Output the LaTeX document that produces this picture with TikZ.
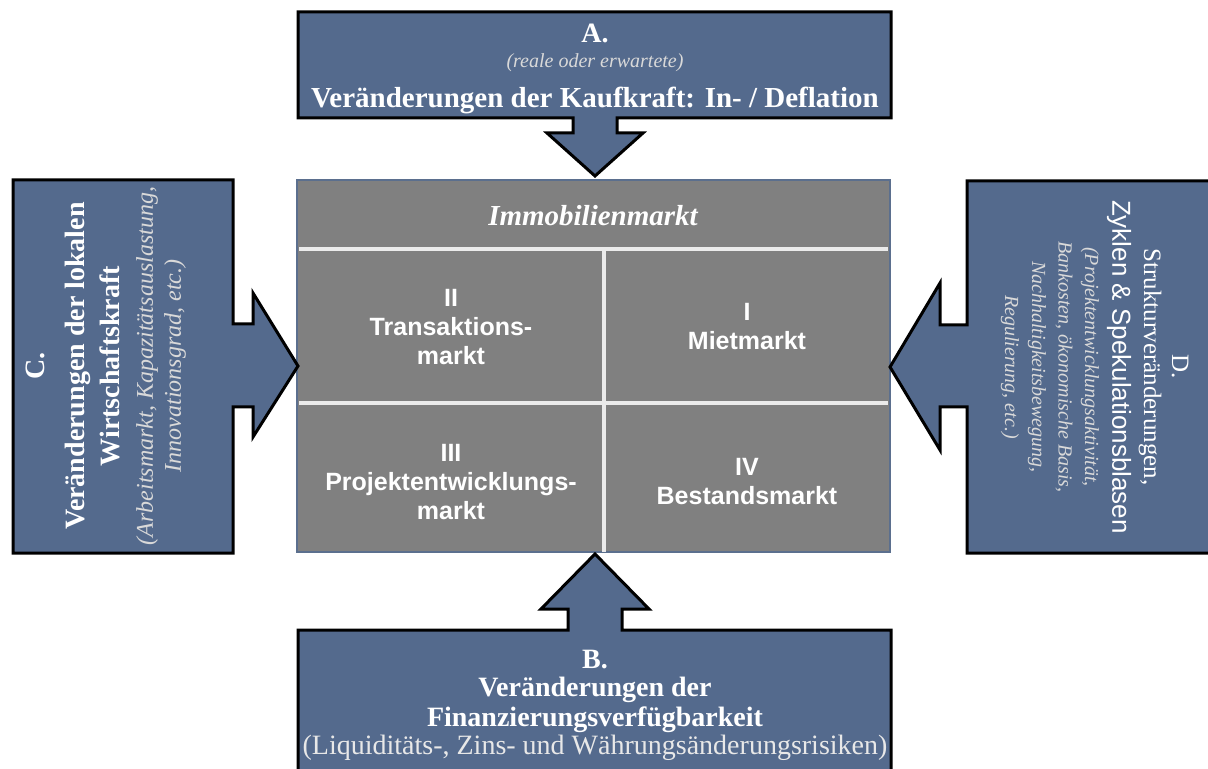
\documentclass[tikz,border=0pt]{standalone}
\usepackage{fontspec}
\setmainfont{Liberation Serif}
\setsansfont{Liberation Sans}
\usetikzlibrary{calc}
\definecolor{slate}{HTML}{546A8D}
\definecolor{cellgray}{HTML}{808080}
\definecolor{rulewhite}{HTML}{EBEBEB}
\definecolor{notegray}{HTML}{D9D9D9}
\definecolor{frameblue}{HTML}{5B6F8E}

\begin{document}
\begin{tikzpicture}[x=0.5pt,y=-0.5pt,
  callout/.style={fill=slate,draw=black,line width=1.5pt,line join=miter},
  divider/.style={draw=rulewhite,line width=2pt},
  headline/.style={text=white,inner sep=0pt,font=\fontsize{14}{16}\selectfont\bfseries},
  plainline/.style={text=white,inner sep=0pt,font=\fontsize{12.5}{15}\selectfont},
  noteline/.style={text=notegray,inner sep=0pt,font=\fontsize{#1}{#1}\selectfont\itshape},
  noteline/.default=12,
  celltext/.style={text=white,align=center,inner sep=0pt,font=\fontsize{12.5}{14.5}\selectfont\sffamily\bfseries}]
\useasboundingbox (0,0) rectangle (1208,769);
\clip (0,0) rectangle (1208,769);

% market block
\draw[fill=cellgray,draw=frameblue,line width=1pt] (297,180) rectangle (890,552);
\draw[divider] (299,249) -- (888,249);
\draw[divider] (299,403) -- (888,403);
\draw[divider] (604,249) -- (604,552);
\node[text=white,inner sep=0pt,font=\fontsize{14.5}{16}\selectfont\bfseries\itshape] (market) at (593,216) {Immobilienmarkt};
\node[celltext] (transaction) at (451,327) {II\\Transaktions-\\markt};
\node[celltext] (rent) at (747,327) {I\\Mietmarkt};
\node[celltext] (project) at (451,482) {III\\Projektentwicklungs-\\markt};
\node[celltext] (stock) at (747,482) {IV\\Bestandsmarkt};

% A: top
\draw[callout] (298,12) -- (891,12) -- (891,118) -- (617,118) -- (617,133) -- (643,133)
  -- (595,176) -- (547,133) -- (573,133) -- (573,118) -- (298,118) -- cycle;
\node[headline] (aHead) at (595,33) {A.};
\node[noteline=10] (aNote) at (595,63) {(reale oder erwartete)};
\node[headline,font=\fontsize{14.5}{16}\selectfont\bfseries] (aTitle) at (595,100) {Veränderungen der Kaufkraft: In- / Deflation};

% B: bottom
\draw[callout] (298,800) -- (298,630) -- (568,630) -- (568,609) -- (541,609) -- (595,554)
  -- (649,609) -- (622,609) -- (622,630) -- (891,630) -- (891,800) -- cycle;
\node[headline] (bHead) at (595,660) {B.};
\node[headline] (bTitle) at (595,690) {Veränderungen der};
\node[headline] (bTitleTwo) at (595,720) {Finanzierungsverfügbarkeit};
\node[text=notegray!60!white,inner sep=0pt,font=\fontsize{14}{16}\selectfont] (bNote) at (595,748) {(Liquiditäts-, Zins- und Währungsänderungsrisiken)};

% C: left
\draw[callout] (13,180) -- (233,180) -- (233,324) -- (253,324) -- (253,293) -- (298,366)
  -- (253,437) -- (253,407) -- (233,407) -- (233,553) -- (13,553) -- cycle;
\node[headline,rotate=90] (cHead) at (35,366) {C.};
\node[headline,rotate=90] (cTitle) at (78,366) {Veränderungen der lokalen};
\node[headline,rotate=90] (cTitleTwo) at (110,366) {Wirtschaftskraft};
\node[noteline,rotate=90] (cNote) at (147,366) {(Arbeitsmarkt, Kapazitätsauslastung,};
\node[noteline,rotate=90] (cNoteTwo) at (175,366) {Innovationsgrad, etc.)};

% D: right
\draw[callout] (1215,181) -- (967,181) -- (967,325) -- (940,325) -- (940,283) -- (890,367)
  -- (940,450) -- (940,407) -- (967,407) -- (967,553) -- (1215,553) -- cycle;
\node[plainline,rotate=-90] (dHead) at (1180,367) {D.};
\node[plainline,rotate=-90] (dTitle) at (1150,367) {Strukturveränderungen,};
\node[plainline,rotate=-90,font=\fontsize{13}{15}\selectfont\sffamily] (dTitleTwo) at (1119,367) {Zyklen \& Spekulationsblasen};
\node[noteline=10,rotate=-90] (dNote) at (1090,367) {(Projektentwicklungsaktivität,};
\node[noteline=10,rotate=-90] (dNoteTwo) at (1064,367) {Bankosten, ökonomische Basis,};
\node[noteline=10,rotate=-90] (dNoteThree) at (1037,367) {Nachhaltigkeitsbewegung,};
\node[noteline=10,rotate=-90] (dNoteFour) at (1010,367) {Regulierung, etc.)};
\end{tikzpicture}
\end{document}
